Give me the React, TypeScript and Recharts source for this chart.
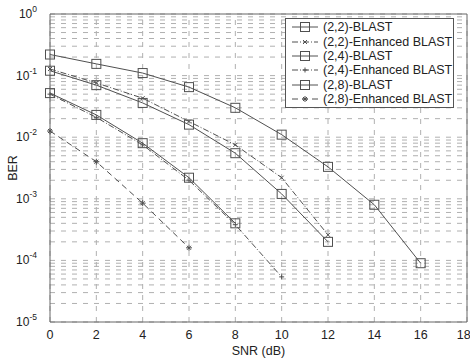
import React from "react";
import {
  LineChart,
  Line,
  XAxis,
  YAxis,
  ReferenceLine,
} from "recharts";

// ─── Data ─────────────────────────────────────────────────────────────────────

const snr = [0, 2, 4, 6, 8, 10, 12, 14, 16];

const blast22 = [0.22, 0.155, 0.11, 0.065, 0.03, 0.011, 0.0033, 0.0008, 0.00009];
const enhanced22 = [0.128, 0.076, 0.043, 0.018, 0.0075, 0.0022, 0.00026];
const blast24 = [0.12, 0.07, 0.036, 0.016, 0.0055, 0.0012, 0.0002];
const enhanced24 = [0.05, 0.021, 0.0075, 0.002, 0.00038, 0.000054];
const blast28 = [0.052, 0.023, 0.008, 0.0022, 0.0004];
const enhanced28 = [0.0126, 0.004, 0.00085, 0.00016];

const xTicks = [0, 2, 4, 6, 8, 10, 12, 14, 16, 18];
const decades = [-5, -4, -3, -2, -1, 0];
const mantissas = [1, 2, 3, 4, 5, 6, 7, 8, 9];

const yTicks: number[] = [];
decades.forEach((d) => {
  mantissas.forEach((m) => {
    if (d === 0 && m > 1) return;
    yTicks.push(m * Math.pow(10, d));
  });
});

type Marker = "square" | "x" | "plus" | "star";

interface Series {
  key: string;
  name: string;
  values: number[];
  marker: Marker;
  dash?: string;
}

const series: Series[] = [
  { key: "b22", name: "(2,2)-BLAST", values: blast22, marker: "square" },
  { key: "e22", name: "(2,2)-Enhanced BLAST", values: enhanced22, marker: "x", dash: "6 2 1 2" },
  { key: "b24", name: "(2,4)-BLAST", values: blast24, marker: "square" },
  { key: "e24", name: "(2,4)-Enhanced BLAST", values: enhanced24, marker: "plus", dash: "6 2 1 2" },
  { key: "b28", name: "(2,8)-BLAST", values: blast28, marker: "square" },
  { key: "e28", name: "(2,8)-Enhanced BLAST", values: enhanced28, marker: "star", dash: "6 4" },
];

const rows = snr.map((s, i) => {
  const row: Record<string, number | undefined> = { snr: s };
  series.forEach((sr) => {
    row[sr.key] = sr.values[i];
  });
  return row;
});

const LINE = "#505050";
const GRID = "#b0b0b0";
const FONT = "'Liberation Sans', Arial, sans-serif";

// ─── Markers ──────────────────────────────────────────────────────────────────

function MarkerShape({ type, cx, cy }: { type: Marker; cx: number; cy: number }) {
  const s = 4.5;
  if (type === "square")
    return (
      <rect x={cx - s} y={cy - s} width={2 * s} height={2 * s} fill="none" stroke={LINE} strokeWidth={1} />
    );
  if (type === "x")
    return (
      <g stroke={LINE} strokeWidth={1}>
        <line x1={cx - 2} y1={cy - 2} x2={cx + 2} y2={cy + 2} />
        <line x1={cx - 2} y1={cy + 2} x2={cx + 2} y2={cy - 2} />
      </g>
    );
  if (type === "plus")
    return (
      <g stroke={LINE} strokeWidth={1}>
        <line x1={cx - 2.5} y1={cy} x2={cx + 2.5} y2={cy} />
        <line x1={cx} y1={cy - 2.5} x2={cx} y2={cy + 2.5} />
      </g>
    );
  return (
    <g stroke={LINE} strokeWidth={1}>
      <line x1={cx - 3} y1={cy} x2={cx + 3} y2={cy} />
      <line x1={cx} y1={cy - 3} x2={cx} y2={cy + 3} />
      <line x1={cx - 2} y1={cy - 2} x2={cx + 2} y2={cy + 2} />
      <line x1={cx - 2} y1={cy + 2} x2={cx + 2} y2={cy - 2} />
    </g>
  );
}

const makeDot = (type: Marker) => (props: any) => {
  const { cx, cy, value, index } = props;
  if (value == null || cx == null || cy == null) return <g key={index} />;
  return (
    <g key={index}>
      <MarkerShape type={type} cx={cx} cy={cy} />
    </g>
  );
};

// ─── Ticks ────────────────────────────────────────────────────────────────────

function YTick({ x, y, payload }: any) {
  const v = payload.value as number;
  const exp = Math.log10(v);
  if (Math.abs(exp - Math.round(exp)) > 1e-6) return <g />;
  return (
    <text x={x - 5} y={y + 4} textAnchor="end" fontSize={12} fill="#222" fontFamily={FONT}>
      10
      <tspan dy={-6} fontSize={8.5}>
        {Math.round(exp)}
      </tspan>
    </text>
  );
}

// ─── Legend ───────────────────────────────────────────────────────────────────

function LegendBox() {
  return (
    <div
      style={{
        position: "absolute",
        left: 285,
        top: 18,
        width: 169,
        height: 90,
        border: "1px solid #555",
        background: "#fff",
        fontFamily: FONT,
        fontSize: 12.5,
        color: "#222",
        boxSizing: "border-box",
        paddingTop: 1,
      }}
    >
      {series.map((sr) => (
        <div key={sr.key} style={{ display: "flex", alignItems: "center", height: 14.4 }}>
          <svg width={37} height={12} style={{ flex: "none" }}>
            <line x1={6} y1={6} x2={32} y2={6} stroke={LINE} strokeWidth={1} strokeDasharray={sr.dash} />
            <MarkerShape type={sr.marker} cx={19} cy={6} />
          </svg>
          <span style={{ whiteSpace: "nowrap", lineHeight: "14px" }}>{sr.name}</span>
        </div>
      ))}
    </div>
  );
}

// ─── Chart ────────────────────────────────────────────────────────────────────

export default function App() {
  return (
    <div style={{ position: "absolute", left: 0, top: 0, width: 470, height: 359, background: "#fff" }}>
      <LineChart
        width={470}
        height={359}
        data={rows}
        margin={{ top: 14, right: 3, left: 0, bottom: 0 }}
      >
        {yTicks.map((t) => (
          <ReferenceLine key={"h" + t} y={t} stroke={GRID} strokeDasharray="5 6" />
        ))}
        {xTicks.map((t) => (
          <ReferenceLine key={"v" + t} x={t} stroke={GRID} strokeDasharray="5 6" />
        ))}
        <ReferenceLine y={1} stroke="#666" />
        <ReferenceLine x={18} stroke="#666" />

        <XAxis
          dataKey="snr"
          type="number"
          domain={[0, 18]}
          ticks={xTicks}
          height={37}
          tickLine={false}
          stroke="#666"
          tick={{ fontSize: 12.5, fill: "#222", fontFamily: FONT }}
          label={{
            value: "SNR (dB)",
            position: "insideBottom",
            offset: 4,
            fontSize: 12.5,
            fill: "#222",
            fontFamily: FONT,
          }}
        />
        <YAxis
          type="number"
          scale="log"
          domain={[1e-5, 1]}
          ticks={yTicks}
          interval={0}
          allowDataOverflow
          width={50}
          tickLine={false}
          stroke="#666"
          tick={<YTick />}
          label={({ viewBox }: any) => (
            <text
              x={13}
              y={viewBox.y + viewBox.height / 2}
              transform={`rotate(-90 13 ${viewBox.y + viewBox.height / 2})`}
              textAnchor="middle"
              dominantBaseline="central"
              fontSize={12.5}
              fill="#222"
              fontFamily={FONT}
            >
              BER
            </text>
          )}
        />

        {series.map((sr) => (
          <Line
            key={sr.key}
            dataKey={sr.key}
            name={sr.name}
            type="linear"
            stroke={LINE}
            strokeWidth={1}
            strokeDasharray={sr.dash}
            dot={makeDot(sr.marker)}
            activeDot={false}
            isAnimationActive={false}
          />
        ))}
      </LineChart>
      <LegendBox />
    </div>
  );
}
